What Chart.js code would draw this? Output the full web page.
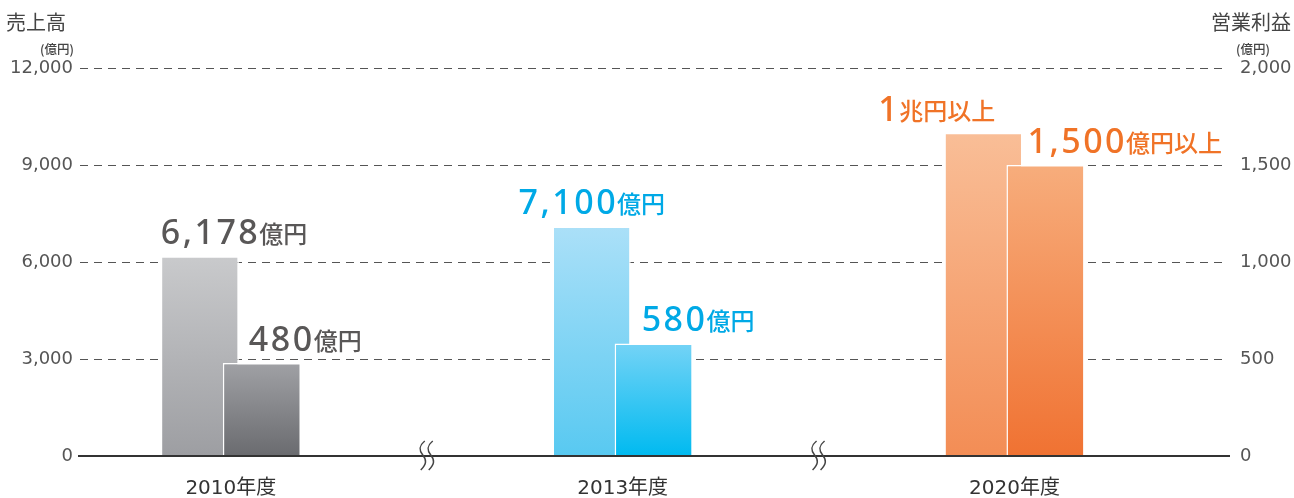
<!DOCTYPE html>
<html lang="ja">
<head>
  <meta charset="UTF-8">
  <title>売上高・営業利益</title>
  <script src="https://cdn.jsdelivr.net/npm/chart.js"></script>
  <style>
    html, body { margin: 0; padding: 0; background: #fff; }
    #wrap { width: 1294px; height: 498px; }
  </style>
</head>
<body>
  <div id="wrap"><canvas id="salesChart" width="1294" height="498"></canvas></div>

  <script>
    // データ
    const categories = ['2010年度', '2013年度', '2020年度'];
    const sales = [6178, 7100, 10000];      // 売上高（億円）
    const profit = [480, 580, 1500];        // 営業利益（億円）
    const salesLabels = [['6,178', '億円'], ['7,100', '億円'], ['1', '兆円以上']];
    const profitLabels = [['480', '億円'], ['580', '億円'], ['1,500', '億円以上']];
    const leftTicks = [0, 3000, 6000, 9000, 12000];
    const rightTicks = [0, 500, 1000, 1500, 2000];

    // 色（上→下のグラデーション）
    const salesColors = [['#c9cacc', '#9d9ea2'], ['#abe0f8', '#58c9f1'], ['#f9be97', '#f38d55']];
    const profitColors = [['#a0a1a5', '#6a6b6f'], ['#74d3f6', '#00baf0'], ['#f7ad7c', '#f07232']];
    const textColors = ['#595757', '#00a9e6', '#f07327'];
    const labelShift = [[0, -34, -66], [26, 27, 21]];

    function grad(colors, axisId) {
      return (c) => {
        const chart = c.chart;
        const area = chart.chartArea;
        const pair = colors[c.dataIndex] || colors[0];
        if (!area || !c.parsed) return pair[0];
        const y = chart.scales[axisId].getPixelForValue(c.parsed.y);
        const g = chart.ctx.createLinearGradient(0, y, 0, area.bottom);
        g.addColorStop(0, pair[0]);
        g.addColorStop(1, pair[1]);
        return g;
      };
    }

    // 営業利益の棒を売上高の上に描く
    const drawOrder = {
      id: 'drawOrder',
      beforeDatasetDraw(chart, args) {
        if (args.index === 1) return false;
      },
      afterDatasetsDraw(chart) {
        chart.getDatasetMeta(1).controller.draw();
      }
    };

    // 棒の上のラベル・基線・波線・軸タイトル
    const decorations = {
      id: 'decorations',
      afterDatasetsDraw(chart) {
        const ctx = chart.ctx;
        const area = chart.chartArea;
        const xs = chart.scales.x;

        // 基線
        ctx.save();
        ctx.strokeStyle = '#333';
        ctx.lineWidth = 2;
        ctx.beginPath();
        ctx.moveTo(area.left - 2, area.bottom);
        ctx.lineTo(area.right + 2, area.bottom);
        ctx.stroke();

        // 省略記号（波線）
        ctx.lineWidth = 1.5;
        ctx.strokeStyle = '#444';
        for (let i = 0; i < categories.length - 1; i++) {
          const mx = xs.getPixelForValue(i + 0.5);
          [-4, 4].forEach(dx => {
            const x = mx + dx;
            const y0 = area.bottom - 15;
            ctx.beginPath();
            ctx.moveTo(x + 2, y0);
            ctx.bezierCurveTo(x - 4, y0 + 5, x - 4, y0 + 9, x, y0 + 14);
            ctx.bezierCurveTo(x + 4, y0 + 19, x + 4, y0 + 23, x - 2, y0 + 29);
            ctx.stroke();
          });
        }

        // 値ラベル
        const sets = [salesLabels, profitLabels];
        sets.forEach((labels, d) => {
          const meta = chart.getDatasetMeta(d);
          meta.data.forEach((bar, i) => {
            const [big, small] = labels[i];
            const x = bar.x - bar.width / 2 + labelShift[d][i];
            const y = bar.y - 12;
            ctx.fillStyle = textColors[i];
            ctx.textAlign = 'left';
            ctx.textBaseline = 'alphabetic';
            ctx.font = '500 34px "Noto Sans", "Open Sans", sans-serif';
            ctx.letterSpacing = '2.5px';
            ctx.fillText(big, x, y);
            const w = ctx.measureText(big).width;
            ctx.letterSpacing = '0px';
            ctx.font = '500 24px "Noto Sans CJK JP", sans-serif';
            ctx.fillText(small, x + w - 1, y - 1);
          });
        });
        ctx.restore();
      },
      afterDraw(chart) {
        const ctx = chart.ctx;
        ctx.save();
        ctx.fillStyle = '#444';
        ctx.textBaseline = 'middle';
        ctx.font = '20px "Noto Sans CJK JP", sans-serif';
        ctx.textAlign = 'left';
        ctx.fillText('売上高', 6, 22);
        ctx.textAlign = 'right';
        ctx.fillText('営業利益', 1291, 22);
        ctx.font = '500 12.5px "Noto Sans CJK JP", sans-serif';
        ctx.fillText('(億円)', 74, 49);
        ctx.textAlign = 'left';
        ctx.fillText('(億円)', 1236, 49);
        ctx.restore();
      }
    };

    const tickFont = { family: '"DejaVu Sans", sans-serif', size: 18 };

    const chart = new Chart(document.getElementById('salesChart').getContext('2d'), {
      type: 'bar',
      data: {
        datasets: [
          {
            label: '売上高',
            data: categories.map((c, i) => ({ x: i, y: sales[i] })),
            yAxisID: 'y',
            backgroundColor: grad(salesColors, 'y'),
            borderColor: '#ffffff',
            borderWidth: 1.5
          },
          {
            label: '営業利益',
            data: categories.map((c, i) => ({ x: i, y: profit[i] })),
            yAxisID: 'y1',
            backgroundColor: grad(profitColors, 'y1'),
            borderColor: '#ffffff',
            borderWidth: 1.5
          }
        ]
      },
      options: {
        responsive: false,
        animation: false,
        categoryPercentage: 124 / 391,
        barPercentage: 78 / 62,
        layout: { padding: { top: 68, left: 0, right: 0, bottom: 0 } },
        plugins: {
          legend: { display: false },
          tooltip: { enabled: false }
        },
        scales: {
          x: {
            type: 'linear',
            min: -0.385,
            max: 2.545,
            offset: false,
            afterBuildTicks: (s) => { s.ticks = categories.map((c, i) => ({ value: i })); },
            afterFit: (s) => { s.height = 42; },
            grid: { display: false, drawTicks: false },
            border: { display: false },
            ticks: {
              padding: 21,
              color: '#333',
              font: { family: '"DejaVu Sans", "Noto Sans CJK JP", sans-serif', size: 20 },
              callback: (v) => categories[v]
            }
          },
          y: {
            position: 'left',
            min: 0,
            max: 12000,
            afterBuildTicks: (s) => { s.ticks = leftTicks.map(v => ({ value: v })); },
            afterFit: (s) => { s.width = 80; },
            grid: { color: '#555', lineWidth: 1, drawTicks: false },
            border: { display: false, dash: [8, 6] },
            ticks: {
              padding: 7,
              color: '#555',
              font: tickFont,
              callback: (v) => v.toLocaleString('en-US')
            }
          },
          y1: {
            position: 'right',
            min: 0,
            max: 2000,
            afterBuildTicks: (s) => { s.ticks = rightTicks.map(v => ({ value: v })); },
            afterFit: (s) => { s.width = 66; },
            grid: { display: false, drawTicks: false },
            border: { display: false },
            ticks: {
              padding: 12,
              color: '#555',
              font: tickFont,
              callback: (v) => v.toLocaleString('en-US')
            }
          }
        }
      },
      plugins: [drawOrder, decorations]
    });
  </script>
</body>
</html>
